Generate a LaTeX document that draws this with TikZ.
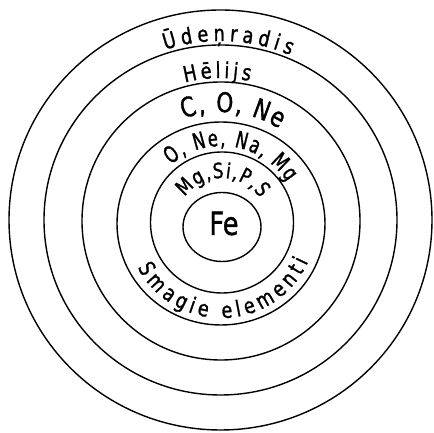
\documentclass[tikz,border=0pt]{standalone}
\usepackage{fontspec}
\usetikzlibrary{decorations.text}
\newfontfamily\hand[FakeStretch=0.8,FakeBold=1.2]{DejaVu Sans}
\newfontfamily\handn[FakeStretch=0.7,FakeBold=1.2]{DejaVu Sans}
\begin{document}
\begin{tikzpicture}[x=1pt,y=1pt,
  ring/.style={line width=1.4pt, draw=black},
  arctext/.style={decorate, decoration={text along path, text align={fit to path}, text={#1}}}]
\useasboundingbox (0,0) rectangle (434,433);
% centres
\coordinate (c1) at (220.5,213);
\coordinate (c3) at (221,211);
\coordinate (c4) at (221.5,210);
\coordinate (c5) at (222,209);
\coordinate (c6) at (222,206);
% rings
\draw[ring] (220.5,213) ellipse [x radius=211.5, y radius=210];
\draw[ring] (220.5,213) ellipse [x radius=176.5, y radius=175];
\draw[ring] (221,212) ellipse [x radius=139, y radius=139];
\draw[ring] (221,209.5) ellipse [x radius=104, y radius=101.5];
\draw[ring] (222,210.5) ellipse [x radius=71.5, y radius=70.5];
\draw[ring] (c6) ellipse [x radius=39, y radius=34.5];
% labels
\path[arctext={|\hand\fontsize{22}{22}\selectfont|Ūdeņradis}]
  ([shift={(108:179)}]c1) arc[start angle=108, end angle=67, radius=179];
\path[arctext={|\hand\fontsize{22}{22}\selectfont|Hēlijs}]
  ([shift={(104.5:142)}]c1) arc[start angle=104.5, end angle=78, radius=142];
\path[arctext={|\hand\fontsize{27}{27}\selectfont|C, O, Ne}]
  ([shift={(110:110)}]c3) arc[start angle=110, end angle=58, radius=110];
\path[arctext={|\handn\fontsize{23}{23}\selectfont|O, Ne, Na, Mg}]
  ([shift={(131:77)}]c4) arc[start angle=131, end angle=32, radius=77];
\path[arctext={|\hand\fontsize{21}{21}\selectfont|Mg,Si,P,S}]
  ([shift={(144:46)}]c5) arc[start angle=144, end angle=34, radius=46];
\path[arctext={|\hand\fontsize{22}{22}\selectfont|Smagie elementi}]
  ([shift={(208:95)}]c4) arc[start angle=208, end angle=336, radius=95];
\node[font=\hand\fontsize{32}{32}\selectfont, inner sep=0pt] (fe) at (224,209.5) {Fe};
\end{tikzpicture}
\end{document}
